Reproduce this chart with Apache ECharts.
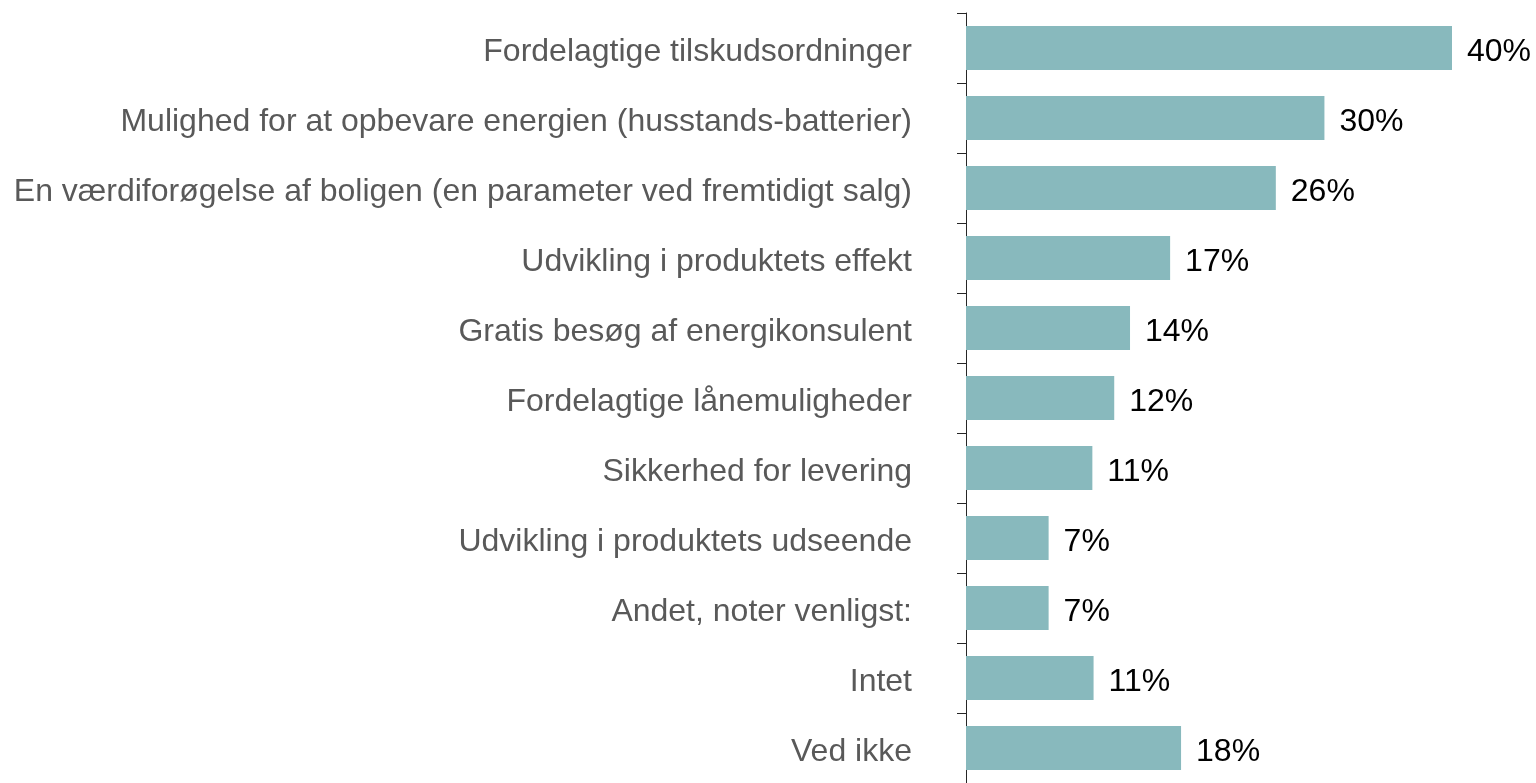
<!DOCTYPE html>
<html>
<head>
<meta charset="utf-8">
<script src="https://cdn.jsdelivr.net/npm/echarts@6/dist/echarts.min.js"></script>
<style>
  html, body { margin: 0; padding: 0; background: #fff; }
  #chart { width: 1536px; height: 783px; }
</style>
</head>
<body>
<div id="chart"></div>
<script>
// kategorier, top til bund
const categories = [
  "Fordelagtige tilskudsordninger",
  "Mulighed for at opbevare energien (husstands-batterier)",
  "En værdiforøgelse af boligen (en parameter ved fremtidigt salg)",
  "Udvikling i produktets effekt",
  "Gratis besøg af energikonsulent",
  "Fordelagtige lånemuligheder",
  "Sikkerhed for levering",
  "Udvikling i produktets udseende",
  "Andet, noter venligst:",
  "Intet",
  "Ved ikke"
];
// bar lengths
const values = [40, 29.5, 25.5, 16.8, 13.5, 12.2, 10.4, 6.8, 6.8, 10.5, 17.7];
// labels as printed
const valueLabels = ["40%", "30%", "26%", "17%", "14%", "12%", "11%", "7%", "7%", "11%", "18%"];

const chart = echarts.init(document.getElementById("chart"));
const option = {
  animation: false,
  grid: {
    left: 966,
    right: 84,
    top: 13,
    bottom: -2,
    containLabel: false
  },
  xAxis: {
    type: "value",
    min: 0,
    max: 40,
    show: false
  },
  yAxis: {
    type: "category",
    inverse: true,
    data: categories,
    axisLine: { show: true, lineStyle: { color: "#262626", width: 1 } },
    axisTick: { show: true, length: 9, lineStyle: { color: "#262626" } },
    axisLabel: {
      margin: 54,
      color: "#595959",
      fontSize: 32,
      fontFamily: "Liberation Sans, Arial, sans-serif",
      verticalAlign: "top",
      lineHeight: 8
    },
    splitLine: { show: false }
  },
  series: [
    {
      type: "bar",
      data: values,
      barWidth: 44,
      itemStyle: { color: "#88B9BD" },
      label: {
        show: true,
        position: "right",
        distance: 15,
        offset: [0, 4],
        color: "#000",
        fontSize: 32,
        fontFamily: "Liberation Sans, Arial, sans-serif",
        formatter: p => valueLabels[p.dataIndex]
      }
    }
  ]
};
chart.setOption(option);
</script>
</body>
</html>
